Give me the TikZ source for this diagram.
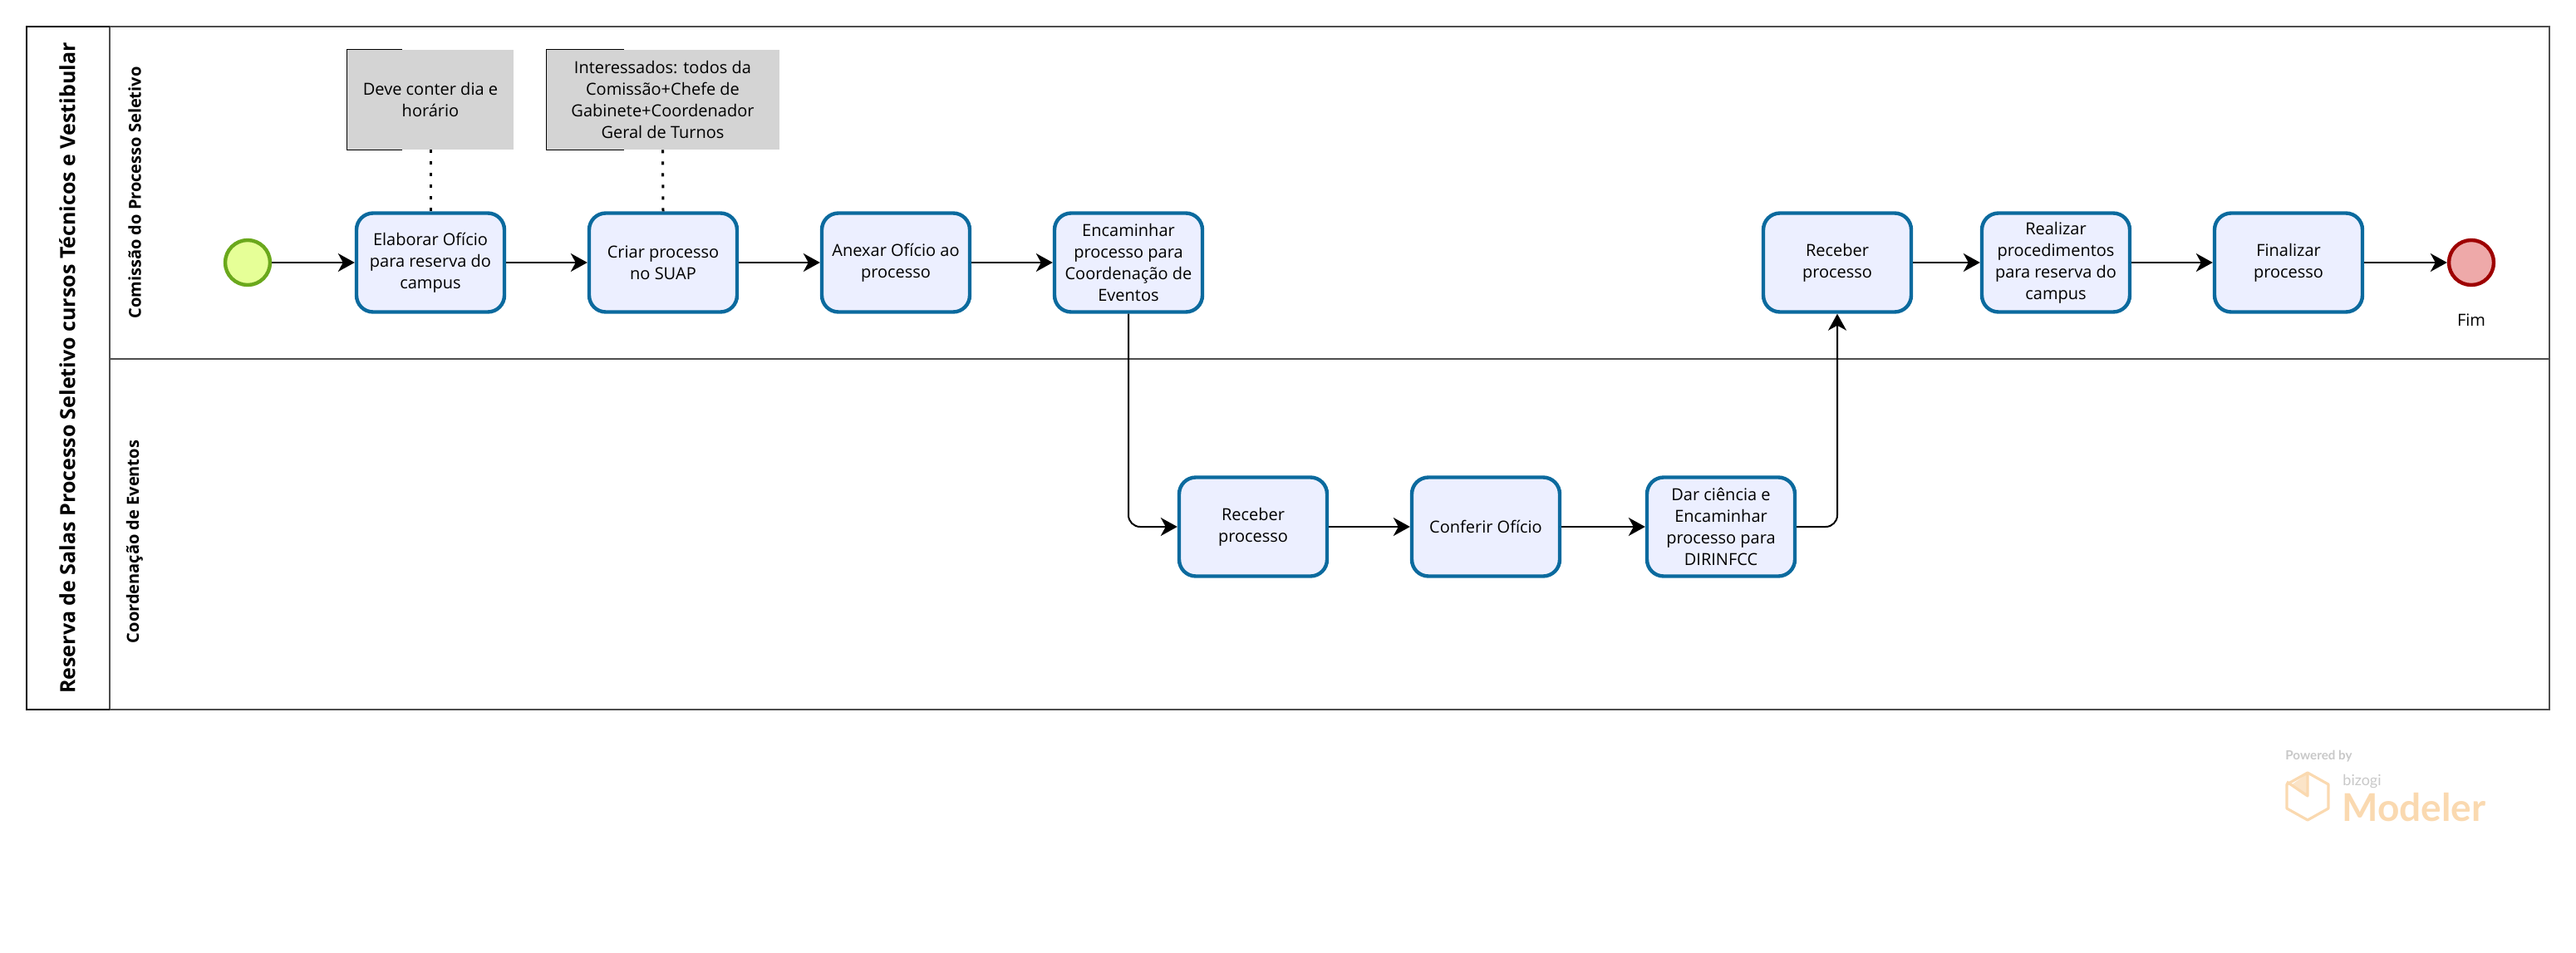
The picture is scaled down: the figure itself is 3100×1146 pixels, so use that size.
\documentclass[tikz,border=0pt]{standalone}
\usepackage{fontspec}
\setmainfont{Open Sans}
\newfontfamily\logofont{Lato}
\usetikzlibrary{arrows.meta}
\definecolor{taskline}{HTML}{0B6A9E}
\definecolor{taskfill}{HTML}{ECEFFF}
\definecolor{startline}{HTML}{6AA81C}
\definecolor{startfill}{HTML}{E6FF97}
\definecolor{endline}{HTML}{9E0000}
\definecolor{endfill}{HTML}{EEA9A9}
\definecolor{poolline}{HTML}{4D4D4D}
\definecolor{notefill}{HTML}{D4D4D4}
\definecolor{logoline}{HTML}{FAD9B0}
\definecolor{logogray}{HTML}{C8C8C8}
\tikzset{
  tarefa/.style={draw=taskline, fill=taskfill, line width=2.2pt, rounded corners=10pt, minimum width=89pt, minimum height=59.5pt, inner sep=1pt, align=center, font=\fontsize{10}{13}\selectfont},
  nota/.style={fill=notefill, minimum height=60pt, inner sep=1pt, align=center, font=\fontsize{10}{13}\selectfont},
  inicio/.style={circle, draw=startline, fill=startfill, line width=2.2pt, minimum size=27pt, inner sep=0pt},
  fim/.style={circle, draw=endline, fill=endfill, line width=2.2pt, minimum size=27pt, inner sep=0pt},
  fluxo/.style={line width=1pt, -{Stealth[length=10pt,width=11pt,inset=3pt]}, rounded corners=7pt},
  pontos/.style={line width=1.5pt, dash pattern=on 2pt off 5pt},
  raia/.style={rotate=90, font=\fontsize{10}{12}\selectfont\bfseries},
  logo/.style={draw=logoline, line width=1.6pt, line join=round}
}
\begin{document}
\begin{tikzpicture}[x=0.5pt, y=-0.5pt]
  \useasboundingbox (0,0) rectangle (3100,1146);
  % piscina e raias
  \draw[poolline, line width=1pt] (132,32) rectangle (3068,854);
  \draw[poolline, line width=1pt] (132,432) -- (3068,432);
  \draw[line width=1pt] (132,32) -- (32,32) -- (32,854) -- (132,854);
  \node[raia, font=\fontsize{12.5}{15}\selectfont\bfseries] (titulo) at (81,443) {Reserva de Salas Processo Seletivo cursos Técnicos e Vestibular};
  \node[raia] (raiaum) at (162,232) {Comissão do Processo Seletivo};
  \node[raia] (raiadois) at (162,652) {Coordenação de Eventos};
  % notas
  \node[nota, minimum width=100pt] (notaum) at (518,120) {Deve conter dia e\\horário};
  \node[nota, minimum width=140pt] (notadois) at (797.5,120) {Interessados: todos da\\Comissão+Chefe de\\Gabinete+Coordenador\\Geral de Turnos};
  \draw[line width=0.5pt] ([xshift=33pt]notaum.north west) -- (notaum.north west) -- (notaum.south west) -- ([xshift=33pt]notaum.south west);
  \draw[line width=0.5pt] ([xshift=47pt]notadois.north west) -- (notadois.north west) -- (notadois.south west) -- ([xshift=47pt]notadois.south west);
  % comissao
  \node[inicio] (inicio) at (298,316) {};
  \node[tarefa] (elaborar) at (518,316) {Elaborar Ofício\\para reserva do\\campus};
  \node[tarefa] (criar) at (798,316) {Criar processo\\no SUAP};
  \node[tarefa] (anexar) at (1078,316) {Anexar Ofício ao\\processo};
  \node[tarefa] (encaminhar) at (1358,316) {Encaminhar\\processo para\\Coordenação de\\Eventos};
  \node[tarefa] (recebercom) at (2211,316) {Receber\\processo};
  \node[tarefa] (realizar) at (2474,316) {Realizar\\procedimentos\\para reserva do\\campus};
  \node[tarefa] (finalizar) at (2754,316) {Finalizar\\processo};
  \node[fim] (fim) at (2974,316) {};
  \node[font=\fontsize{10}{13}\selectfont] (rotulofim) at (2974,385) {Fim};
  % coordenacao
  \node[tarefa] (recebercoord) at (1508,634) {Receber\\processo};
  \node[tarefa] (conferir) at (1788,634) {Conferir Ofício};
  \node[tarefa] (darciencia) at (2071,634) {Dar ciência e\\Encaminhar\\processo para\\DIRINFCC};
  % conectores
  \draw[pontos] (notaum.south) -- (elaborar.north);
  \draw[pontos] (notadois.south) -- (criar.north);
  \draw[fluxo] (inicio) -- (elaborar);
  \draw[fluxo] (elaborar) -- (criar);
  \draw[fluxo] (criar) -- (anexar);
  \draw[fluxo] (anexar) -- (encaminhar);
  \draw[fluxo] (encaminhar.south) |- (recebercoord.west);
  \draw[fluxo] (recebercoord) -- (conferir);
  \draw[fluxo] (conferir) -- (darciencia);
  \draw[fluxo] (darciencia.east) -| (recebercom.south);
  \draw[fluxo] (recebercom) -- (realizar);
  \draw[fluxo] (realizar) -- (finalizar);
  \draw[fluxo] (finalizar) -- (fim);
  % marca
  \fill[logoline!70] (2757,945) -- (2777,931) -- (2777,958) -- cycle;
  \draw[logo] (2777,930) -- (2802,944) -- (2802,973) -- (2777,987) -- (2752,973) -- (2752,944) -- cycle;
  \draw[logo] (2752,941) -- (2777,958) -- (2777,930);
  \node[logogray, anchor=west, inner sep=0pt, font=\fontsize{7.6}{9}\logofont\bfseries] (powered) at (2750,910) {Powered by};
  \node[logogray, anchor=west, inner sep=0pt, font=\fontsize{9}{10}\logofont] (bizogi) at (2819,940) {bizogi};
  \node[logoline, anchor=west, inner sep=0pt, font=\fontsize{23}{24}\logofont\bfseries] (modeler) at (2818,972) {Modeler};
\end{tikzpicture}
\end{document}
